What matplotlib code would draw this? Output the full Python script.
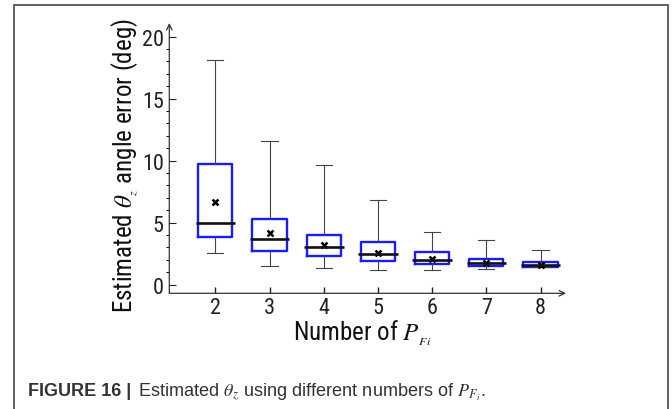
import numpy as np
import matplotlib
matplotlib.use('Agg')
import matplotlib.pyplot as plt

COND = ['Roboto Condensed', 'Liberation Sans', 'DejaVu Sans']
CAPF = ['Liberation Sans', 'DejaVu Sans']
plt.rcParams['font.family'] = COND
plt.rcParams['mathtext.fontset'] = 'stix'

# ── data ─────────────────────────────────────────────────
n_points   = [2, 3, 4, 5, 6, 7, 8]
whisk_hi   = [18.15, 11.56, 9.63, 6.86, 4.27, 3.60, 2.82]
q3         = [9.73, 5.30, 4.03, 3.42, 2.61, 2.07, 1.83]
medians    = [5.00, 3.71, 3.06, 2.50, 2.02, 1.72, 1.56]
q1         = [3.85, 2.74, 2.34, 1.91, 1.67, 1.51, 1.45]
whisk_lo   = [2.58, 1.53, 1.35, 1.19, 1.16, 1.24, 1.42]
means      = [6.67, 4.14, 3.23, 2.52, 2.07, 1.75, 1.55]

stats = []
for i in range(len(n_points)):
    stats.append(dict(whislo=whisk_lo[i], q1=q1[i], med=medians[i], q3=q3[i],
                      whishi=whisk_hi[i], mean=means[i], fliers=[]))

# ── figure ───────────────────────────────────────────────
fig = plt.figure(figsize=(6.72, 4.10), dpi=100)
fig.patch.set_facecolor('white')

# outer frame
frame = plt.Rectangle((14/672, -0.05), (667.5-14)/672, (410-6)/410 + 0.05,
                      transform=fig.transFigure, fill=False,
                      edgecolor='#555555', lw=1.3)
fig.add_artist(frame)

ax = fig.add_axes([169.3/672, (410-294.3)/410, (566-169.3)/672, (294.3-24)/410])
BOX_W = 0.63
parts = ax.bxp(stats, positions=n_points, widths=BOX_W, showmeans=True,
               showfliers=False,
               boxprops=dict(color='#1a1aff', lw=1.7),
               medianprops=dict(color='#111111', lw=1.9),
               whiskerprops=dict(color='#444444', lw=0.8),
               capprops=dict(color='#444444', lw=0.8),
               capwidths=0.3,
               meanprops=dict(marker='x', markeredgecolor='black', markersize=4.5,
                              markeredgewidth=1.8))

# medians stick out a bit beyond the boxes
for pos, ln in zip(n_points, parts['medians']):
    ln.set_xdata([pos - 0.73/2, pos + 0.73/2])
    ln.set_zorder(3)

ax.set_xlim(1.15, 8.47)
ax.set_ylim(-0.7, 21.1)
ax.set_xticks(n_points)
ax.set_yticks([0, 5, 10, 15, 20])
ax.set_yticks(np.arange(0, 21, 1), minor=True)
ax.tick_params(axis='both', direction='in', labelsize=16, colors='#222222')
ax.tick_params(axis='y', which='major', length=5, width=0.8, pad=4)
ax.tick_params(axis='y', which='minor', length=2.5, width=0.7)
ax.tick_params(axis='x', which='major', length=4, width=1.0, pad=3)

for s in ax.spines.values():
    s.set_visible(False)
ax.annotate('', xy=(1.0, 0), xytext=(0, 0), xycoords='axes fraction',
            arrowprops=dict(arrowstyle='->', lw=0.9, color='#333333',
                            shrinkA=0, shrinkB=0))
ax.annotate('', xy=(0, 1.0), xytext=(0, 0), xycoords='axes fraction',
            arrowprops=dict(arrowstyle='->', lw=0.9, color='#333333',
                            shrinkA=0, shrinkB=0))

ax.set_ylabel(r'Estimated $\theta_{_z}$ angle error (deg)', fontsize=18,
              color='#111111')
ax.yaxis.set_label_coords(-0.075, 0.475)
ax.set_xlabel(r'Number of $P_{_{Fi}}$', fontsize=18, color='#111111')
ax.xaxis.set_label_coords(0.485, -0.09)

# caption, sized to span the same width as in the reference
renderer = fig.canvas.get_renderer()
cap_y = (410-392)/410
t1 = fig.text(28/672, cap_y, 'FIGURE 16 |', fontsize=11, fontweight='bold',
              color='#333333', va='center', ha='left', family=CAPF)
w = t1.get_window_extent(renderer).width
t1.set_fontsize(11 * 103 / w)
t2 = fig.text(138/672, cap_y,
              r'Estimated $\theta_z$ using different numbers of $P_{F_i}$.',
              fontsize=11, color='#333333', va='center', ha='left', family=CAPF)
w2 = t2.get_window_extent(renderer).width
t2.set_fontsize(11 * 348 / w2)

fig.savefig('out.png', dpi=100, facecolor='white')
